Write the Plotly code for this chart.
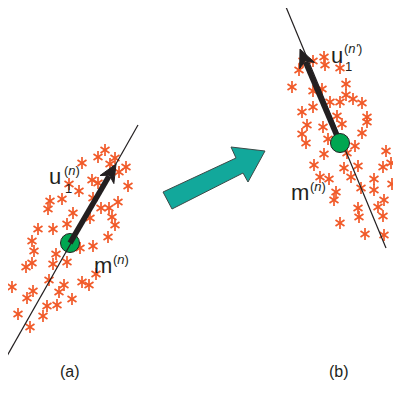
import math
import plotly.graph_objects as go

# ---------------- data (diagram coordinates, y grows downward) ----------------
# panel (a): sample points
a_star_x = [105, 98, 115, 110, 126, 119, 82, 92, 98, 128, 69, 79, 50, 62, 48, 93, 118, 101, 109,
            112, 115, 73, 90, 38, 53, 67, 108, 32, 34, 80, 93, 56, 53, 67, 26, 32, 96, 82, 89,
            12, 49, 64, 59, 33, 27, 72, 47, 57, 18, 43, 30]
a_star_y = [150, 157, 158, 164, 167, 172, 163, 180, 183, 186, 184, 191, 201, 199, 209, 198, 202,
            208, 208, 217, 225, 213, 218, 229, 229, 224, 237, 241, 251, 248, 246, 254, 264, 262,
            267, 263, 274, 282, 285, 287, 280, 285, 292, 291, 298, 299, 306, 305, 314, 316, 327]
# panel (b): sample points
b_star_x = [303, 313, 324, 325, 299, 340, 292, 313, 322, 346, 346, 353, 362, 340, 330, 302, 313,
            367, 367, 337, 307, 323, 342, 302, 306, 362, 328, 355, 324, 386, 347, 314, 358, 344,
            383, 391, 320, 329, 351, 374, 392, 361, 374, 336, 334, 384, 378, 358, 359, 383, 340,
            365, 384]
b_star_y = [61, 61, 57, 65, 70, 68, 87, 91, 89, 84, 95, 99, 103, 102, 102, 112, 107, 117, 122,
            116, 125, 127, 124, 134, 143, 133, 139, 146, 154, 151, 153, 165, 166, 168, 167, 163,
            177, 179, 177, 179, 184, 188, 190, 192, 200, 200, 207, 208, 217, 216, 223, 234, 235]

# principal axis lines
a_axis_x = [7, 138]
a_axis_y = [356, 125]
b_axis_x = [286, 386]
b_axis_y = [7, 248]

# mean points and eigenvector tips
a_mean = (70, 243)
a_tip = (116, 164)
b_mean = (340, 143)
b_tip = (300, 49)

# big teal transition arrow outline
big_arrow_x = [163, 236, 231, 265, 248, 243, 172, 163]
big_arrow_y = [192, 158, 147, 151, 182, 173, 209, 192]

STAR = "#f15a29"
TEAL = "#12a89b"
GREEN = "#00a651"
DARK = "#231f20"

W, H = 401, 394
OFF = 8  # page body margin

fig = go.Figure()


def add_stars(xs, ys):
    for sym in ("y-up-open", "y-down-open"):
        fig.add_trace(go.Scatter(
            x=xs, y=ys, mode="markers",
            marker=dict(symbol=sym, size=7.5, color=STAR, line=dict(color=STAR, width=1.7)),
            hoverinfo="skip", showlegend=False))


def add_line(xs, ys):
    fig.add_trace(go.Scatter(x=xs, y=ys, mode="lines",
                             line=dict(color=DARK, width=1.2),
                             hoverinfo="skip", showlegend=False))


def add_mean(p):
    fig.add_trace(go.Scatter(x=[p[0]], y=[p[1]], mode="markers",
                             marker=dict(size=19, color=GREEN, line=dict(color=DARK, width=1)),
                             hoverinfo="skip", showlegend=False))


def add_arrow(p0, p1, head_len=17, half_w=8):
    dx, dy = p1[0] - p0[0], p1[1] - p0[1]
    L = math.hypot(dx, dy)
    ux, uy = dx / L, dy / L
    nx, ny = -uy, ux
    bx, by = p1[0] - ux * head_len, p1[1] - uy * head_len
    fig.add_trace(go.Scatter(x=[p0[0], bx + ux * 3], y=[p0[1], by + uy * 3], mode="lines",
                             line=dict(color=DARK, width=5.5),
                             hoverinfo="skip", showlegend=False))
    nb = 4  # notch depth of stealth head
    hx = [p1[0], bx + nx * half_w - ux * 1, bx + ux * nb, bx - nx * half_w - ux * 1, p1[0]]
    hy = [p1[1], by + ny * half_w - uy * 1, by + uy * nb, by - ny * half_w - uy * 1, p1[1]]
    fig.add_trace(go.Scatter(x=hx, y=hy, mode="lines", fill="toself",
                             fillcolor=DARK, line=dict(color=DARK, width=1),
                             hoverinfo="skip", showlegend=False))


# panel (a)
add_stars(a_star_x, a_star_y)
add_mean(a_mean)
add_line(a_axis_x, a_axis_y)
add_arrow(a_mean, a_tip)

# panel (b)
add_stars(b_star_x, b_star_y)
add_line(b_axis_x, b_axis_y)
add_arrow(b_mean, b_tip)
add_mean(b_mean)

# transition arrow
fig.add_trace(go.Scatter(x=big_arrow_x, y=big_arrow_y, mode="lines", fill="toself",
                         fillcolor=TEAL, line=dict(color="#3c4a48", width=1),
                         hoverinfo="skip", showlegend=False))

FONT = "Liberation Sans, Arial, sans-serif"
TXT = "#231f20"


def txt(x, y, s, size, anchor="left", vanchor="middle"):
    fig.add_annotation(x=x, y=y, text=s, showarrow=False, xanchor=anchor, yanchor=vanchor,
                       borderpad=0,
                       font=dict(family=FONT, size=size, color=TXT))


# labels panel (a)
txt(48, 176, "u", 22)
txt(64, 180, "1", 13, vanchor="top")
txt(63, 179, "(<i>n</i>)", 13, vanchor="bottom")
txt(93, 265, "m", 22)
txt(112, 259, "(<i>n</i>)", 13)

# labels panel (b)
txt(330, 55, "u", 22)
txt(344, 58, "1", 13, vanchor="top")
txt(343, 57, "(<i>n'</i>)", 13, vanchor="bottom")
txt(290, 192, "m", 22)
txt(309, 186, "(<i>n</i>)", 13)

txt(70, 371, "(a)", 16, "center")
txt(339, 371, "(b)", 16, "center")

fig.update_xaxes(range=[OFF, W], visible=False, fixedrange=True)
fig.update_yaxes(range=[H, OFF], visible=False, fixedrange=True)
fig.update_layout(width=W - OFF, height=H - OFF, autosize=False,
                  margin=dict(l=0, r=0, t=0, b=0),
                  paper_bgcolor="white", plot_bgcolor="white",
                  showlegend=False)

fig.write_html("out.html", config={"displayModeBar": False})
